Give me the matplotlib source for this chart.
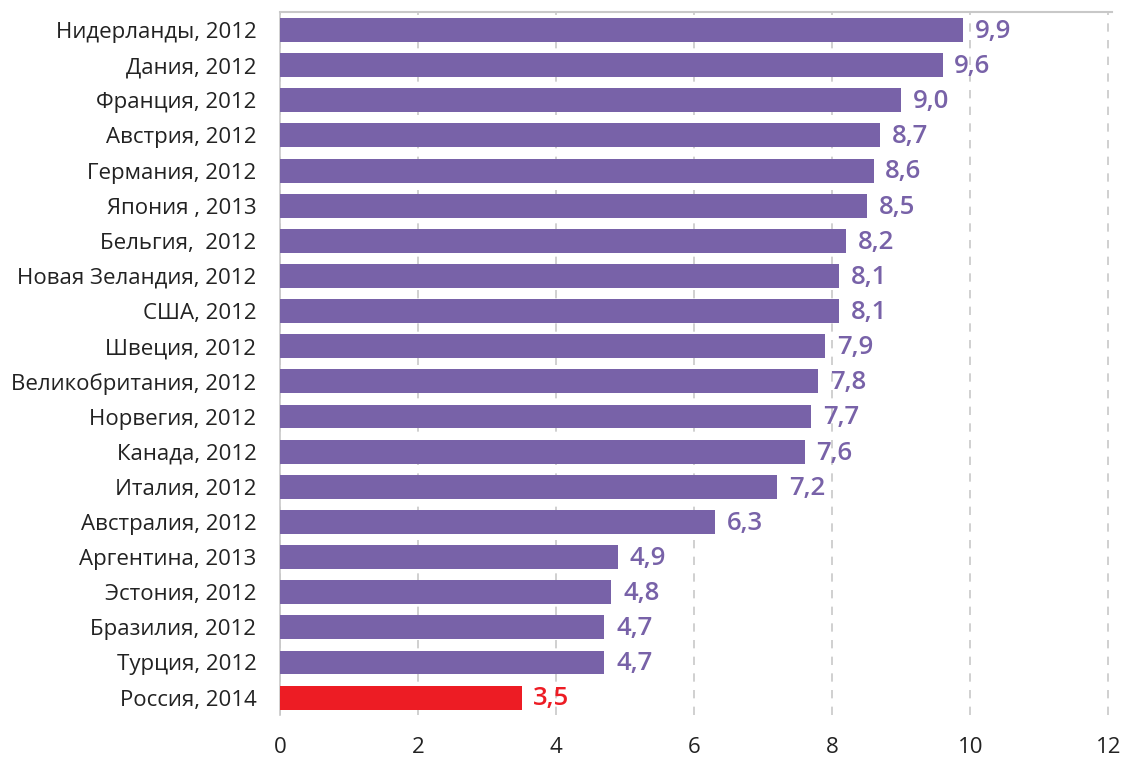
import matplotlib
matplotlib.use("Agg")
import matplotlib.pyplot as plt

# данные с картинки, сверху вниз
countries = [
    "Нидерланды, 2012", "Дания, 2012", "Франция, 2012", "Австрия, 2012",
    "Германия, 2012", "Япония , 2013", "Бельгия,  2012", "Новая Зеландия, 2012",
    "США, 2012", "Швеция, 2012", "Великобритания, 2012", "Норвегия, 2012",
    "Канада, 2012", "Италия, 2012", "Австралия, 2012", "Аргентина, 2013",
    "Эстония, 2012", "Бразилия, 2012", "Турция, 2012", "Россия, 2014",
]
values = [9.9, 9.6, 9.0, 8.7, 8.6, 8.5, 8.2, 8.1, 8.1, 7.9,
          7.8, 7.7, 7.6, 7.2, 6.3, 4.9, 4.8, 4.7, 4.7, 3.5]
xticks = [0, 2, 4, 6, 8, 10, 12]

purple = "#7862A8"
red = "#ED1C24"
colors = [red if c.startswith("Россия") else purple for c in countries]

plt.rcParams['font.family'] = ['Open Sans', 'DejaVu Sans']

fig = plt.figure(figsize=(11.21, 7.6), dpi=100)
ax = fig.add_axes([0.2498, 0.059, 0.7425, 0.9246])

pos = list(range(len(countries)))
ax.barh(pos, values, height=0.68, color=colors, zorder=3)
for y, v, c in zip(pos, values, colors):
    ax.text(v + 0.17, y + 0.04, f"{v:.1f}".replace(".", ","), va="center", ha="left",
            fontsize=18.5, color=c, fontweight="semibold", zorder=4)

ax.set_yticks(pos)
ax.set_yticklabels(countries, fontsize=16, color="#222222")
ax.set_ylim(len(countries) - 0.5, -0.5)
ax.set_xlim(0, 12.06)
ax.set_xticks(xticks)
ax.set_xticklabels([str(t) for t in xticks], fontsize=16, color="#222222")
ax.tick_params(axis="y", length=0, pad=17)
ax.tick_params(axis="x", length=0, pad=16)

ax.grid(axis="x", color="#C8C8C8", linestyle=(0, (5, 5)), linewidth=1.2, zorder=0)
for s in ["right", "bottom"]:
    ax.spines[s].set_visible(False)
ax.spines["top"].set_color("#C8C8C8")
ax.spines["left"].set_color("#C8C8C8")
ax.spines["top"].set_linewidth(1.5)
ax.spines["left"].set_linewidth(1.2)

fig.savefig("out.png", dpi=100)
